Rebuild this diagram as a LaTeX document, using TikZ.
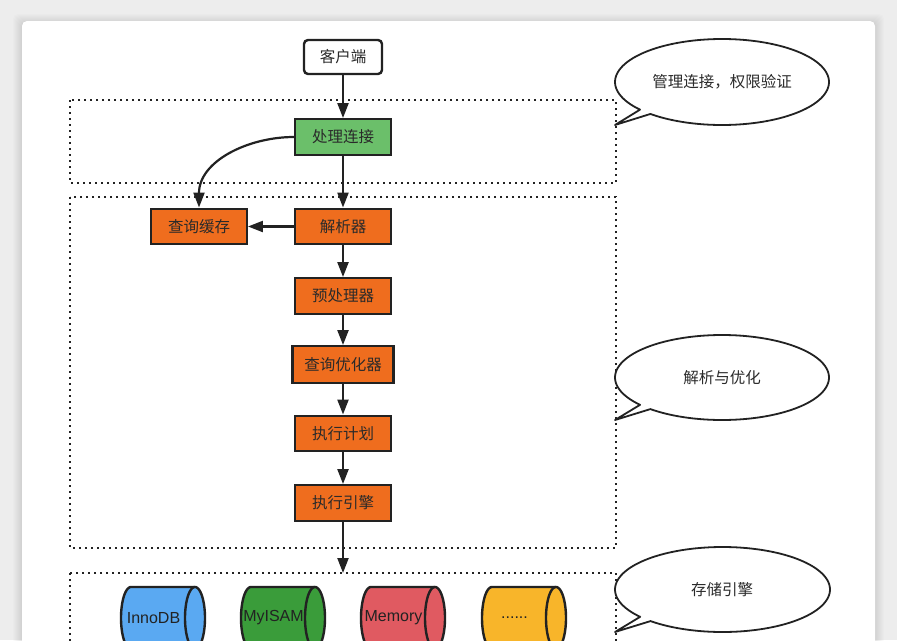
\documentclass[tikz,border=0pt]{standalone}
\usepackage{fontspec}
\setmainfont{Liberation Sans}
\newfontfamily\cjk{Noto Sans CJK SC}
\usetikzlibrary{arrows.meta}
\definecolor{bgc}{HTML}{EDEDED}
\definecolor{lc}{HTML}{222222}
\definecolor{tc}{HTML}{2A2A2A}
\definecolor{cOr}{HTML}{EF6D1E}
\definecolor{cGr}{HTML}{6BBF6A}
\definecolor{cInno}{HTML}{5AA9F2}
\definecolor{cMy}{HTML}{3A9C3A}
\definecolor{cMem}{HTML}{E05A61}
\definecolor{cEtc}{HTML}{F8B52A}
\newcommand\mydotstext{......}
\begin{document}
\begin{tikzpicture}[x=1pt,y=-1pt,
  mybox/.style={draw=lc, line width=2.4pt, minimum width=95.5pt, minimum height=35.5pt, inner sep=0pt, font=\cjk\fontsize{15.5}{18}\selectfont, text=tc},
  orangebox/.style={mybox, fill=cOr},
  myarrow/.style={draw=lc, line width=2.2pt, -{Triangle[length=15pt,width=11pt]}},
  grp/.style={draw=lc, line width=2pt, dash pattern=on 2pt off 4pt},
  bubble/.style={draw=lc, line width=1.8pt, fill=white, line join=round},
  notetext/.style={font=\cjk\fontsize{15.5}{18}\selectfont, text=tc},
  cyltext/.style={font=\fontsize{16}{18}\selectfont, text=lc, inner sep=0pt},
  cyl/.style={draw=lc, line width=2.4pt},
]
\useasboundingbox (0,0) rectangle (897,640);
\clip (0,0) rectangle (897,640);
% background and card
\fill[bgc] (0,0) rectangle (897,640);
\foreach \k in {1,...,9} {
  \fill[black, opacity=0.012, rounded corners=5pt] (22-\k,22-\k+1) rectangle (875+\k,700);
}
\fill[white, rounded corners=5pt] (22,21) rectangle (875,700);

% group boxes
\draw[grp] (70,100) rectangle (616,183);
\draw[grp] (70,197) rectangle (616,548);
\draw[grp] (70,573) rectangle (616,700);

% nodes
\node[mybox, fill=white, rounded corners=4pt, minimum width=78pt, minimum height=34pt] (client) at (343,57) {客户端};
\node[mybox, fill=cGr] (conn) at (343,137) {处理连接};
\node[orangebox] (cache) at (199,226.5) {查询缓存};
\node[orangebox] (parser) at (343,226.5) {解析器};
\node[orangebox] (pre) at (343,296) {预处理器};
\node[orangebox, minimum width=101pt, minimum height=36.5pt] (opt) at (343,364.5) {查询优化器};
\node[orangebox] (plan) at (343,433.5) {执行计划};
\node[orangebox] (engine) at (343,503) {执行引擎};
\coordinate (storetop) at (343,573);

% connectors
\draw[myarrow] (client) -- (conn);
\draw[myarrow] (conn.west) to[out=180,in=90] (cache.north);
\draw[myarrow] (conn) -- (parser);
\draw[myarrow] (parser) -- (cache);
\draw[myarrow] (parser) -- (pre);
\draw[myarrow] (pre) -- (opt);
\draw[myarrow] (opt) -- (plan);
\draw[myarrow] (plan) -- (engine);
\draw[myarrow] (engine) -- (storetop);

% callouts
\draw[bubble] plot[domain=140:492, samples=120, smooth] ({722+107*cos(\x)},{82+43*sin(\x)}) -- (615,125) -- cycle;
\node[notetext] (n1) at (722,82) {管理连接，权限验证};
\draw[bubble] plot[domain=140:492, samples=120, smooth] ({722+107*cos(\x)},{377.5+42.5*sin(\x)}) -- (615,420) -- cycle;
\node[notetext] (n2) at (722,377.5) {解析与优化};
\draw[bubble] plot[domain=140:492, samples=120, smooth] ({722.5+107.5*cos(\x)},{589.5+42.5*sin(\x)}) -- (615,632) -- cycle;
\node[notetext] (n3) at (722,589.5) {存储引擎};

% storage engine cylinders
\foreach \L/\c/\t/\n in {121/cInno/InnoDB/inno, 241/cMy/MyISAM/myisam, 361/cMem/Memory/memory, 482/cEtc/\mydotstext/etc} {
  \draw[cyl, fill=\c] plot[domain=-90:90, samples=40, smooth] ({\L+74+10*cos(\x)},{618+31*sin(\x)})
     -- plot[domain=90:270, samples=40, smooth] ({\L+10+10*cos(\x)},{618+31*sin(\x)}) -- cycle;
  \draw[cyl] plot[domain=90:270, samples=40, smooth] ({\L+74+10*cos(\x)},{618+31*sin(\x)});
  \node[cyltext] (\n) at (\L+32.5,618) {\t};
}
\end{tikzpicture}
\end{document}
